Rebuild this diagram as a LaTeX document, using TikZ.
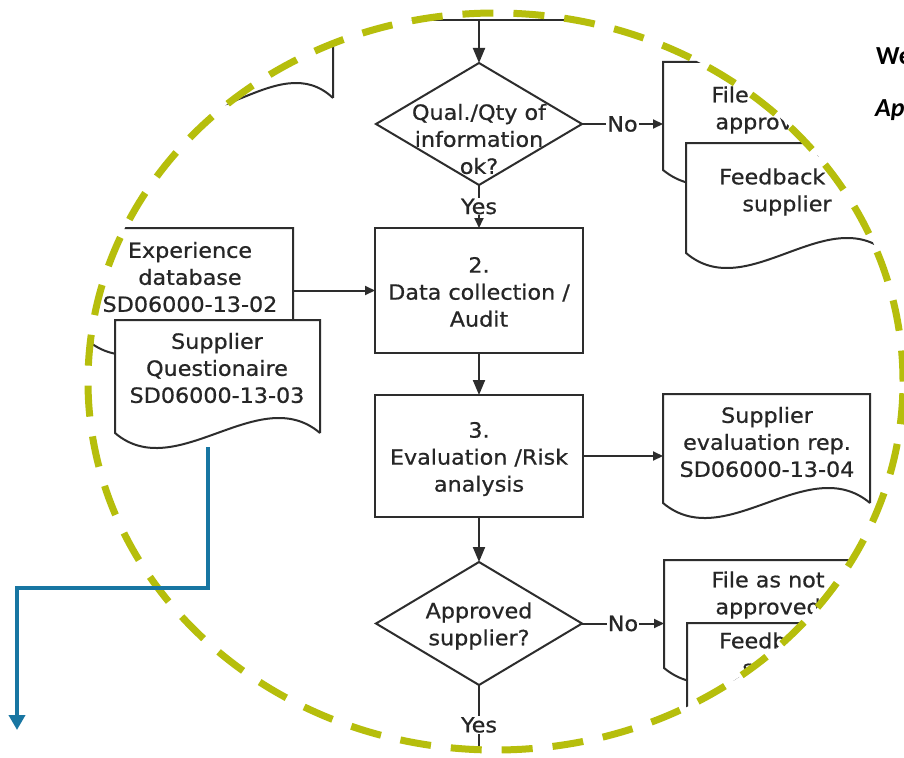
\documentclass[tikz,border=0pt]{standalone}
\usepackage{fontspec}
\newfontfamily\flowfont{DejaVu Sans}[FakeStretch=1.06,FakeBold=0.7]
\newfontfamily\headfont{Carlito}
\usetikzlibrary{arrows.meta,shapes.geometric,calc}

\definecolor{ink}{RGB}{38,38,38}
\definecolor{linegray}{RGB}{45,45,45}
\definecolor{ringgreen}{RGB}{182,190,12}
\definecolor{pathblue}{RGB}{24,118,162}

\tikzset{
  flow/.style={draw=linegray, line width=2pt},
  arrV/.style={flow, -{Triangle[length=15pt,width=12pt]}},
  arrS/.style={flow, -{Triangle[length=10pt,width=9pt]}},
  txt/.style={font=\flowfont\fontsize{21}{27}\selectfont, text=ink, align=center, inner sep=0pt},
  lbl/.style={txt, fill=white, inner sep=1pt},
  area/.style 2 args={minimum width=#1, minimum height=#2, inner sep=0pt, outer sep=0pt},
  procbox/.style 2 args={area={#1}{#2}, rectangle, flow, fill=white},
  decision/.style 2 args={area={#1}{#2}, diamond, flow, fill=white},
  ring/.style={draw=ringgreen, line width=7pt, dash pattern=on 31pt off 20pt},
  bluearrow/.style={draw=pathblue, line width=4pt, -{Triangle[length=15pt,width=16pt]}},
  heading/.style={font=\headfont\bfseries\fontsize{26}{30}\selectfont, text=black, inner sep=0pt, anchor=base west},
}

% document symbol: straight top and sides, wavy bottom edge
\newcommand\docoutline[2]{%
  \draw[flow, fill=white] (#1.south east) -- (#1.north east) -- (#1.north west) -- (#1.south west)
    .. controls +(#2,52) and +(-#2,-52) .. (#1.south east);}

\begin{document}
\begin{tikzpicture}[x=1pt,y=-1pt]
\useasboundingbox (0,0) rectangle (904,757);
\fill[white] (0,0) rectangle (904,757);

\begin{scope}
  \clip (495.5,381.5) ellipse [x radius=407.5pt, y radius=368.5pt];

  % incoming flow from above
  \coordinate (topL) at (380,20);
  \coordinate (topR) at (600,20);
  \coordinate (topJ) at (479,20);
  \draw[flow] (topL) -- (topR);

  % document on the upper left
  \node[area={183pt}{158pt}] (tl) at (241.5,19) {};
  \docoutline{tl}{55}

  % inputs on the left
  \node[area={206pt}{112pt}] (e1) at (190,284) {};
  \docoutline{e1}{62}
  \node[area={205pt}{113pt}] (sq) at (217.5,376.5) {};
  \docoutline{sq}{61}

  % process column
  \node[decision={206pt}{122pt}] (q1) at (479,124) {};
  \node[procbox={208pt}{125pt}] (b2) at (479,290.5) {};
  \node[procbox={208pt}{122pt}] (b3) at (479,456) {};
  \node[decision={206pt}{123pt}] (q2) at (479,623.5) {};
  \coordinate (out) at (479,790);

  % outputs on the right
  \node[area={212pt}{108pt}] (fa1) at (769,116) {};
  \docoutline{fa1}{64}
  \node[area={202pt}{110pt}] (fb1) at (787,198) {};
  \docoutline{fb1}{61}
  \node[area={207pt}{109pt}] (ser) at (766.5,448.5) {};
  \docoutline{ser}{62}
  \node[area={211pt}{108pt}] (fa2) at (769.5,614) {};
  \docoutline{fa2}{63}
  \node[area={201pt}{112pt}] (fb2) at (787.5,679) {};
  \docoutline{fb2}{60}

  % connectors
  \draw[arrV] (topJ) -- (q1.north);
  \draw[arrS] (q1.south) -- (b2.north) node[lbl, pos=0.5] {Yes};
  \draw[arrV] (b2.south) -- (b3.north);
  \draw[arrV] (b3.south) -- (q2.north);
  \draw[flow] (q2.south) -- (out) node[lbl, pos=0.38] {Yes};
  \draw[arrS] (b2.west -| e1.east) -- (b2.west);
  \draw[arrS] (b3.east) -- (b3.east -| ser.west);
  \draw[arrS] (q1.east) -- (q1.east -| fa1.west) node[lbl, pos=0.5] {No};
  \draw[arrS] (q2.east) -- (q2.east -| fa2.west) node[lbl, pos=0.5] {No};

  % texts
  \node[txt] (q1t) at (479,139) {Qual./Qty of\\information\\ok?};
  \node[txt] (b2t) at (479,292) {2.\\Data collection /\\Audit};
  \node[txt] (b3t) at (479,459) {3.\\Evaluation /Risk\\analysis};
  \node[txt] (q2t) at (479,626) {Approved\\supplier?};
  \node[txt] (e1t) at (190,277) {Experience\\database\\SD06000-13-02};
  \node[txt] (sqt) at (217,368) {Supplier\\Questionaire\\SD06000-13-03};
  \node[txt] (sert) at (767,442) {Supplier\\evaluation rep.\\SD06000-13-04};
  \node[txt] (fa1t) at (768,110) {File as not\\approved};
  \node[txt] (fb1t) at (787,192) {Feedback to\\supplier};
  \node[txt] (fa2t) at (768,595) {File as not\\approved};
  \node[txt] (fb2t) at (787,656) {Feedback to\\supplier};
\end{scope}

% dashed focus ring
\draw[ring] (495.5,381.5) ellipse [x radius=407.5pt, y radius=368.5pt];

% route to the next step
\coordinate (bs) at (208,447);
\coordinate (be) at (17,730);
\draw[bluearrow] (bs) -- ++(0,141) -| (be);

% side headings
\node[heading] (hw) at (876,65) {We};
\node[heading, font=\headfont\bfseries\itshape\fontsize{26}{30}\selectfont] (ha) at (875,117) {Ap};
\end{tikzpicture}
\end{document}
